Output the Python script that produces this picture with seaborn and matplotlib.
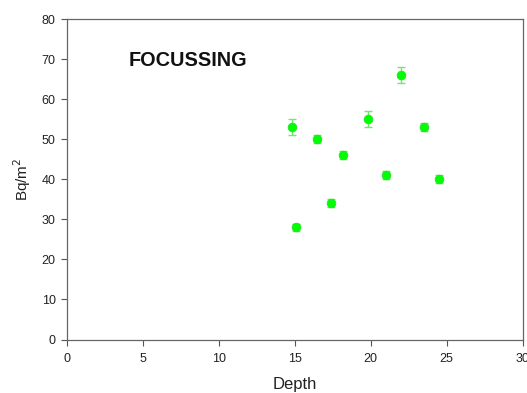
import matplotlib
matplotlib.use("Agg")
import matplotlib.pyplot as plt
import seaborn as sns
import pandas as pd

depth = [14.8, 15.1, 16.5, 17.4, 18.2, 19.8, 21.0, 22.0, 23.5, 24.5]
bq = [53, 28, 50, 34, 46, 55, 41, 66, 53, 40]
err = [2, 0.8, 1, 1, 1, 2, 1, 2, 1, 1]

x_ticks = [0, 5, 10, 15, 20, 25, 30]
y_ticks = [0, 10, 20, 30, 40, 50, 60, 70, 80]

df = pd.DataFrame({"Depth": depth, "Bq": bq, "err": err})

sns.set_style("white")
plt.rcParams["font.family"] = ["Liberation Sans", "DejaVu Sans"]

fig = plt.figure(figsize=(5.27, 3.93), dpi=100)
ax = fig.add_axes([0.1266, 0.1361, 0.8652, 0.8149])

ax.errorbar(df["Depth"], df["Bq"], yerr=df["err"], fmt="none",
            ecolor="#66ee66", elinewidth=1, capsize=3, capthick=1, zorder=2)
sns.scatterplot(data=df, x="Depth", y="Bq", ax=ax, color="#00ff00",
                s=40, edgecolor="#22dd22", linewidth=0.5, zorder=3, legend=False)

ax.set_xlim(0, 30)
ax.set_ylim(0, 80)
ax.set_xticks(x_ticks)
ax.set_yticks(y_ticks)
ax.tick_params(axis="both", direction="out", length=4, width=0.8,
               color="#555555", labelsize=9, labelcolor="#222222",
               bottom=True, left=True)
ax.tick_params(axis="x", pad=6)
ax.tick_params(axis="y", pad=4)
for s in ax.spines.values():
    s.set_color("#666666")
    s.set_linewidth(0.9)

ax.set_xlabel("Depth", fontsize=12, color="#222222", labelpad=8)
ax.set_ylabel("Bq/m$^2$", fontsize=11, color="#222222", labelpad=6)

ax.text(4.1, 69.6, "FOCUSSING", fontsize=14.3, fontweight="bold",
        color="#111111", va="center", ha="left")

fig.savefig("out.png", dpi=100)
